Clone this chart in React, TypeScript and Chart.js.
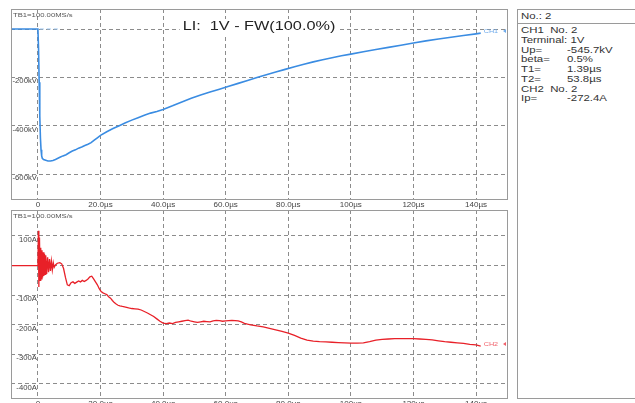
import React, { useEffect, useRef } from "react";
import { Chart, registerables } from "chart.js";

Chart.register(...registerables);

// ---------- data ----------
const timeTicks = [0, 20, 40, 60, 80, 100, 120, 140];
const timeTickLabels = ["0", "20.0µs", "40.0µs", "60.0µs", "80.0µs", "100µs", "120µs", "140µs"];
const timeMin = -8.6;
const timeMax = 149.9;

const voltTicks = [0, -200, -400, -600];
const voltTickLabels = ["", "-200kV", "-400kV", "-600kV"];
const voltMin = -703.4;
const voltMax = 82.8;

const currTicks = [100, 0, -100, -200, -300, -400];
const currTickLabels = ["100A", "", "-100A", "-200A", "-300A", "-400A"];
const currMin = -447.3;
const currMax = 187.8;

const ch1Time = [
  -8.6, 0, 0.2, 0.4, 0.6, 0.8, 1.0, 1.2, 1.4, 1.8, 2.5, 3.2, 4.0, 4.8, 5.6, 6.4, 7.2, 8.0, 9.0, 10.0,
  11.0, 12.0, 13.0, 14.0, 15.0, 16.0, 17.0, 18.0, 19.0, 20.0, 22.0, 24.0, 26.0, 28.0, 30.0, 32.0, 34.0,
  36.0, 38.0, 40.0, 43.0, 46.0, 49.0, 52.0, 55.0, 58.0, 61.0, 64.0, 67.0, 70.0, 73.0, 76.0, 79.0, 82.0,
  85.0, 88.0, 91.0, 94.0, 97.0, 100.0, 104.0, 108.0, 112.0, 116.0, 120.0, 124.0, 128.0, 132.0, 136.0,
  140.0, 141.5,
];
const ch1Voltage = [
  0, 0, -80, -220, -360, -450, -500, -525, -535, -540, -543, -546, -546, -544, -540, -535, -530, -525,
  -520, -512, -505, -500, -493, -488, -482, -477, -470, -460, -450, -440, -425, -412, -400, -388, -377,
  -367, -357, -348, -341, -333, -318, -302, -287, -273, -261, -249, -237, -225, -213, -201, -189, -178,
  -167, -156, -146, -136, -127, -119, -111, -104, -94, -85, -76, -67, -58, -49, -41, -34, -27, -20, -17,
];
const ch1MarkerTime = [0.6, 7];
const ch1MarkerVoltage = [0, 0];

const ch2Time = [
  -8.6, 0, 0.15, 0.3, 0.5, 0.7, 0.9, 1.1, 1.3, 1.5, 1.7, 1.9, 2.1, 2.3, 2.5, 2.8, 3.1, 3.4, 3.7, 4.0,
  4.3, 4.6, 4.9, 5.2, 5.6, 6.2, 7.0, 7.6, 8.2, 8.8, 9.4, 10.0, 10.6, 11.2, 11.8, 12.4, 13.0, 13.6, 14.2,
  14.8, 15.4, 16.0, 16.6, 17.2, 17.8, 18.4, 19.0, 19.6, 20.2, 20.8, 21.4, 22.0, 22.6, 23.2, 23.8, 24.4,
  25.0, 25.6, 26.2, 27.0, 28.0, 29.0, 30.0, 31.0, 32.0, 33.0, 34.0, 35.0, 36.0, 37.0, 38.0, 39.0, 40.0,
  41.0, 42.0, 43.0, 44.0, 45.0, 46.0, 47.0, 48.0, 49.0, 50.0, 51.0, 52.0, 53.0, 54.0, 55.0, 56.0, 57.0,
  58.0, 59.0, 60.0, 61.0, 62.0, 63.0, 64.0, 65.0, 66.0, 67.0, 68.0, 69.0, 70.0, 72.0, 74.0, 76.0, 78.0,
  80.0, 82.0, 84.0, 86.0, 88.0, 90.0, 92.0, 94.0, 96.0, 98.0, 100.0, 102.0, 104.0, 106.0, 108.0, 110.0,
  112.0, 114.0, 116.0, 118.0, 120.0, 122.0, 124.0, 126.0, 128.0, 130.0, 132.0, 134.0, 136.0, 138.0,
  140.0, 141.5,
];
const ch2Current = [
  0, 0, 118, -72, 95, -50, 60, -45, 52, -40, 45, -35, 40, -30, 35, -28, 28, -22, 22, -18, 15, -14, 10,
  -6, 2, 8, 10, 6, -10, -40, -65, -68, -58, -55, -60, -56, -52, -55, -50, -54, -50, -45, -38, -36, -45,
  -55, -65, -78, -88, -92, -95, -98, -105, -110, -118, -125, -130, -134, -136, -138, -140, -143, -145,
  -146, -147, -150, -155, -160, -166, -172, -180, -188, -194, -196, -194, -196, -192, -190, -188, -186,
  -184, -188, -190, -192, -190, -188, -189, -190, -187, -185, -186, -188, -187, -186, -185, -186, -187,
  -190, -195, -198, -200, -202, -204, -207, -212, -217, -222, -228, -236, -245, -252, -255, -257, -258,
  -259, -260, -261, -262, -262, -261, -257, -252, -249, -248, -247, -247, -247, -247, -248, -249, -251,
  -254, -257, -259, -261, -263, -266, -268, -272,
];

const titleText = "LI:  1V - FW(100.0%)";
const sampleRateText = "TB1=100.00MS/s";
const infoHeader = "No.: 2";
const infoRows: [string, string][] = [
  ["CH1  No. 2", ""],
  ["Terminal: 1V", ""],
  ["Up=", "-545.7kV"],
  ["beta=", "0.5%"],
  ["T1=", "1.39µs"],
  ["T2=", "53.8µs"],
  ["CH2  No. 2", ""],
  ["Ip=", "-272.4A"],
];

// ---------- helpers ----------
const FONT = '"Liberation Sans", Arial, sans-serif';

function drawText(
  ctx: CanvasRenderingContext2D,
  text: string,
  x: number,
  y: number,
  size: number,
  color: string,
  align: "left" | "right" | "center",
  sx: number
) {
  ctx.save();
  ctx.font = `${size}px ${FONT}`;
  ctx.fillStyle = color;
  ctx.textBaseline = "middle";
  ctx.textAlign = "left";
  const w = ctx.measureText(text).width * sx;
  const left = align === "left" ? x : align === "right" ? x - w : x - w / 2;
  ctx.translate(left, y);
  ctx.scale(sx, 1);
  ctx.fillText(text, 0, 0);
  ctx.restore();
}

type Decor = {
  yTicks: number[];
  yLabels: string[];
  title?: string;
  chName: string;
  chColor: string;
  chTime: number[];
  chValues: number[];
};

function makeDecor(d: Decor) {
  return {
    id: "scopeDecor",
    beforeDatasetsDraw(chart: any) {
      const ctx: CanvasRenderingContext2D = chart.ctx;
      const a = chart.chartArea;
      drawText(ctx, sampleRateText, a.left + 2, a.top + 6, 5.5, "#555", "left", 1.4);
      if (d.title) {
        ctx.save();
        ctx.font = `12.5px ${FONT}`;
        const w = ctx.measureText(d.title).width * 1.3;
        ctx.restore();
        const cx = (a.left + a.right) / 2;
        const cy = a.top + 18;
        ctx.save();
        ctx.fillStyle = "#ffffff";
        ctx.fillRect(cx - w / 2 - 3, cy - 8, w + 6, 16);
        ctx.restore();
        drawText(ctx, d.title, cx, cy, 12.5, "#222", "center", 1.3);
      }
    },
    afterDraw(chart: any) {
      const ctx: CanvasRenderingContext2D = chart.ctx;
      const a = chart.chartArea;
      const xs = chart.scales.x;
      const ys = chart.scales.y;
      // panel border
      ctx.save();
      ctx.strokeStyle = "#9a9a9a";
      ctx.lineWidth = 1;
      ctx.setLineDash([]);
      ctx.strokeRect(
        Math.round(a.left) + 0.5,
        Math.round(a.top) + 0.5,
        Math.round(a.right - a.left),
        Math.round(a.bottom - a.top)
      );
      ctx.restore();
      // y labels
      const x0 = xs.getPixelForValue(0);
      d.yTicks.forEach((v, i) => {
        if (!d.yLabels[i]) return;
        drawText(ctx, d.yLabels[i], x0 - 1, ys.getPixelForValue(v) + 4, 7, "#444", "right", 1.1);
      });
      // x labels
      timeTicks.forEach((v, i) => {
        drawText(ctx, timeTickLabels[i], xs.getPixelForValue(v), a.bottom + 6, 7, "#444", "center", 1.15);
      });
      // channel label
      const n = d.chTime.length - 1;
      const px = xs.getPixelForValue(d.chTime[n]) + 3;
      const py = ys.getPixelForValue(d.chValues[n]) - 2;
      drawText(ctx, d.chName, px, py, 6, d.chColor, "left", 1.2);
      ctx.save();
      ctx.fillStyle = d.chColor;
      ctx.beginPath();
      ctx.moveTo(a.right - 1, py - 2);
      ctx.lineTo(a.right - 1, py + 2);
      ctx.lineTo(a.right - 4, py);
      ctx.closePath();
      ctx.fill();
      ctx.restore();
    },
  };
}

function axisX() {
  return {
    type: "linear" as const,
    min: timeMin,
    max: timeMax,
    afterBuildTicks: (s: any) => {
      s.ticks = timeTicks.map((v) => ({ value: v }));
    },
    ticks: { display: false },
    grid: { color: "#8c8c8c", lineWidth: 1, drawTicks: false },
    border: { display: false, dash: [4, 3] },
  };
}

function axisY(min: number, max: number, ticks: number[]) {
  return {
    type: "linear" as const,
    min,
    max,
    afterBuildTicks: (s: any) => {
      s.ticks = ticks.map((v) => ({ value: v }));
    },
    ticks: { display: false },
    grid: { color: "#8c8c8c", lineWidth: 1, drawTicks: false },
    border: { display: false, dash: [4, 3] },
  };
}

const pts = (xs: number[], ys: number[]) => xs.map((x, i) => ({ x, y: ys[i] }));

const CH1_COLOR = "rgb(58,140,226)";
const CH1_LIGHT = "rgb(110,170,235)";
const CH2_COLOR = "rgb(232,32,40)";
const CH2_LIGHT = "rgb(240,95,105)";

export default function App() {
  const topRef = useRef<HTMLCanvasElement>(null);
  const botRef = useRef<HTMLCanvasElement>(null);

  useEffect(() => {
    const top = new Chart(topRef.current!, {
      type: "line",
      data: {
        datasets: [
          {
            data: pts(ch1MarkerTime, ch1MarkerVoltage),
            borderColor: "rgb(150,195,240)",
            borderWidth: 1,
            borderDash: [4, 3],
            pointRadius: 0,
            tension: 0,
          },
          {
            data: pts(ch1Time, ch1Voltage),
            borderColor: CH1_COLOR,
            borderWidth: 1.6,
            pointRadius: 0,
            tension: 0,
          },
        ],
      },
      options: {
        animation: false,
        responsive: false,
        maintainAspectRatio: false,
        events: [],
        layout: { padding: { left: 11, top: 9, right: 9, bottom: 12 } },
        plugins: { legend: { display: false }, tooltip: { enabled: false } },
        scales: { x: axisX(), y: axisY(voltMin, voltMax, voltTicks) },
      } as any,
      plugins: [
        makeDecor({
          yTicks: voltTicks,
          yLabels: voltTickLabels,
          title: titleText,
          chName: "CH1",
          chColor: CH1_LIGHT,
          chTime: ch1Time,
          chValues: ch1Voltage,
        }),
      ],
    });
    const bot = new Chart(botRef.current!, {
      type: "line",
      data: {
        datasets: [
          {
            data: pts(ch2Time, ch2Current),
            borderColor: CH2_COLOR,
            borderWidth: 1.3,
            pointRadius: 0,
            tension: 0,
          },
        ],
      },
      options: {
        animation: false,
        responsive: false,
        maintainAspectRatio: false,
        events: [],
        layout: { padding: { left: 11, top: 1, right: 9, bottom: 5 } },
        plugins: { legend: { display: false }, tooltip: { enabled: false } },
        scales: { x: axisX(), y: axisY(currMin, currMax, currTicks) },
      } as any,
      plugins: [
        makeDecor({
          yTicks: currTicks,
          yLabels: currTickLabels,
          chName: "CH2",
          chColor: CH2_LIGHT,
          chTime: ch2Time,
          chValues: ch2Current,
        }),
      ],
    });
    return () => {
      top.destroy();
      bot.destroy();
    };
  }, []);

  const rowTop = 15;
  const rowStep = 9.75;

  return (
    <div
      style={{
        position: "fixed",
        left: 0,
        top: 0,
        width: 635,
        height: 403,
        background: "#ffffff",
        overflow: "hidden",
      }}
    >
      <canvas
        ref={topRef}
        width={516}
        height={211}
        style={{ position: "absolute", left: 0, top: 0, width: 516, height: 211 }}
      />
      <canvas
        ref={botRef}
        width={516}
        height={194}
        style={{ position: "absolute", left: 0, top: 209, width: 516, height: 194 }}
      />
      <div
        style={{
          position: "absolute",
          left: 517,
          top: 9,
          width: 140,
          height: 390,
          border: "1px solid #9a9a9a",
          boxSizing: "border-box",
          fontFamily: FONT,
          fontSize: 9.5,
          color: "#333",
          whiteSpace: "pre",
        }}
      >
        <div
          style={{
            position: "absolute",
            left: 3,
            top: 0,
            height: 13,
            lineHeight: "12px",
            transform: "scaleX(1.2)",
            transformOrigin: "left center",
          }}
        >
          {infoHeader}
        </div>
        <div
          style={{
            position: "absolute",
            left: 0,
            right: 0,
            top: 13,
            borderTop: "1px solid #9a9a9a",
          }}
        />
        {infoRows.map(([label, value], i) => (
          <div
            key={i}
            style={{
              position: "absolute",
              left: 0,
              top: rowTop + i * rowStep,
              height: rowStep,
              lineHeight: `${rowStep}px`,
              width: 140,
            }}
          >
            <span
              style={{
                position: "absolute",
                left: 3,
                transform: "scaleX(1.2)",
                transformOrigin: "left center",
              }}
            >
              {label}
            </span>
            {value ? (
              <span
                style={{
                  position: "absolute",
                  left: 49,
                  transform: "scaleX(1.2)",
                  transformOrigin: "left center",
                }}
              >
                {value}
              </span>
            ) : null}
          </div>
        ))}
      </div>
    </div>
  );
}
